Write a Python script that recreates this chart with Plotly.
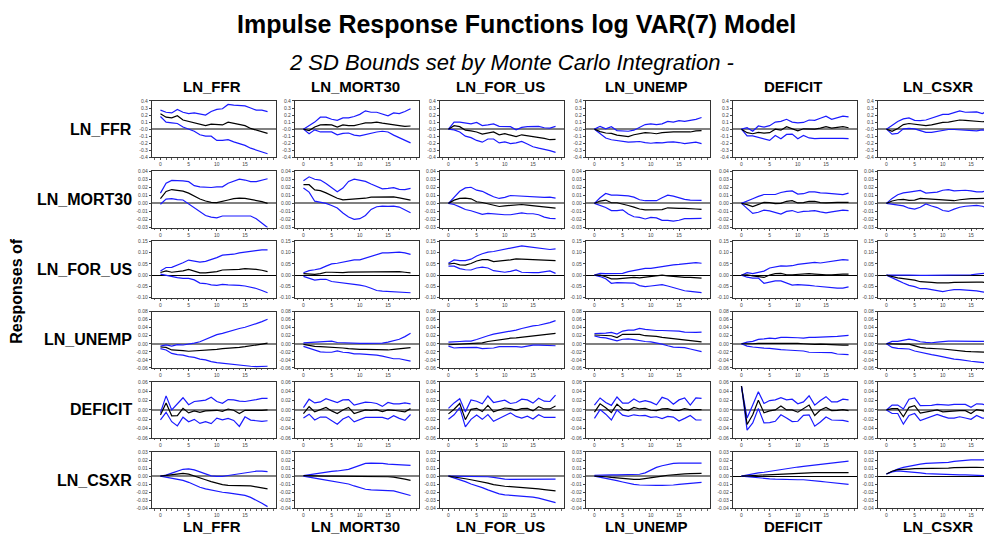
import plotly.graph_objects as go

variables = ["LN_FFR", "LN_MORT30", "LN_FOR_US", "LN_UNEMP", "DEFICIT", "LN_CSXR"]
periods = list(range(20))
x_ticks = [0, 5, 10, 15]

# y-axis ticks for each response row
yticks_FFR = [0.4, 0.3, 0.2, 0.1, 0.0, -0.1, -0.2, -0.3, -0.4]
yticks_MORT30 = [0.04, 0.03, 0.02, 0.01, 0.00, -0.01, -0.02, -0.03]
yticks_FOR_US = [0.15, 0.10, 0.05, 0.00, -0.05, -0.10]
yticks_UNEMP = [0.08, 0.06, 0.04, 0.02, 0.00, -0.02, -0.04, -0.06]
yticks_DEFICIT = [0.06, 0.04, 0.02, 0.00, -0.02, -0.04, -0.06]
yticks_CSXR = [0.03, 0.02, 0.01, 0.00, -0.01, -0.02, -0.03, -0.04]

# ---- Responses of LN_FFR (one list per shock: FFR, MORT30, FOR_US, UNEMP, DEFICIT, CSXR)
FFR_mid = [
    [0.22,0.17,0.16,0.19,0.13,0.11,0.10,0.08,0.05,0.07,0.06,0.06,0.10,0.08,0.07,0.05,0.01,-0.015,-0.03,-0.06],
    [0,-0.02,0.03,0.06,0.065,0.06,0.03,0.06,0.05,0.05,0.07,0.09,0.09,0.10,0.085,0.07,0.065,0.05,0.04,0.045],
    [0,0.05,0.035,-0.015,-0.025,-0.04,-0.07,-0.05,-0.04,-0.08,-0.065,-0.085,-0.105,-0.08,-0.09,-0.105,-0.115,-0.13,-0.15,-0.145],
    [0,-0.035,-0.055,-0.06,-0.085,-0.095,-0.105,-0.08,-0.065,-0.05,-0.055,-0.065,-0.05,-0.04,-0.04,-0.04,-0.045,-0.04,-0.025,-0.02],
    [0,-0.05,-0.065,-0.045,-0.055,-0.05,0,-0.015,0.035,0.01,-0.025,0.005,0,0,0.015,0.035,0.015,0.02,0.035,0.02],
    [0,-0.03,0.01,0.065,0.08,0.07,0.055,0.05,0.06,0.08,0.095,0.10,0.12,0.13,0.125,0.115,0.115,0.105,0.11,0.11],
]
FFR_hi = [
    [0.27,0.24,0.23,0.28,0.24,0.22,0.23,0.22,0.20,0.25,0.28,0.29,0.35,0.34,0.33,0.33,0.30,0.27,0.27,0.25],
    [0,0.05,0.10,0.17,0.17,0.14,0.125,0.16,0.16,0.18,0.21,0.26,0.24,0.24,0.21,0.19,0.23,0.22,0.25,0.29],
    [0,0.10,0.10,0.09,0.075,0.095,0.05,0.06,0.075,0.04,0.04,0.035,-0.01,0.025,0.035,0.04,0.04,0.02,0.015,0.04],
    [0,0.04,0.005,0.035,-0.02,-0.025,-0.03,-0.015,0.03,0.065,0.075,0.065,0.075,0.11,0.10,0.12,0.11,0.12,0.14,0.165],
    [0,0.02,-0.03,0.045,0.03,0.05,0.10,0.11,0.14,0.10,0.09,0.095,0.13,0.125,0.155,0.185,0.14,0.16,0.185,0.175],
    [0,0.05,0.11,0.145,0.16,0.125,0.12,0.13,0.16,0.19,0.21,0.21,0.24,0.26,0.24,0.245,0.245,0.22,0.26,0.27],
]
FFR_lo = [
    [0.18,0.10,0.09,0.08,0.03,0.0,-0.03,-0.08,-0.10,-0.10,-0.16,-0.16,-0.15,-0.18,-0.20,-0.23,-0.27,-0.30,-0.32,-0.35],
    [0,-0.065,-0.01,-0.04,-0.04,-0.04,-0.08,-0.06,-0.055,-0.085,-0.095,-0.075,-0.055,-0.04,-0.03,-0.04,-0.085,-0.12,-0.155,-0.195],
    [0,-0.01,-0.04,-0.10,-0.12,-0.16,-0.185,-0.14,-0.14,-0.195,-0.18,-0.205,-0.195,-0.175,-0.21,-0.25,-0.27,-0.285,-0.305,-0.33],
    [0,-0.065,-0.125,-0.15,-0.165,-0.18,-0.185,-0.18,-0.175,-0.19,-0.20,-0.19,-0.195,-0.185,-0.18,-0.19,-0.205,-0.195,-0.185,-0.205],
    [0,-0.095,-0.095,-0.12,-0.135,-0.16,-0.09,-0.135,-0.075,-0.07,-0.135,-0.09,-0.125,-0.135,-0.13,-0.13,-0.12,-0.125,-0.13,-0.135],
    [0,-0.07,-0.06,0.005,0.01,0.005,-0.02,-0.045,-0.045,-0.03,-0.015,-0.005,-0.005,-0.01,-0.02,-0.03,-0.025,-0.01,-0.03,-0.045],
]

# ---- Responses of LN_MORT30
MORT30_mid = [
    [0.006,0.0148,0.0172,0.0164,0.0152,0.0127,0.0087,0.0054,0.003,0.0013,0.0009,0.0022,0.0042,0.0058,0.0066,0.0062,0.005,0.0038,0.0022,0.0],
    [0.0232,0.0232,0.0167,0.0158,0.013,0.0097,0.0064,0.0044,0.0048,0.0052,0.0056,0.0064,0.0077,0.0077,0.0077,0.0077,0.008,0.0069,0.0052,0.004],
    [0,0.004,0.0061,0.0066,0.0057,0.002,0.0011,-0.0005,-0.0022,-0.0039,-0.003,-0.0022,-0.0018,-0.0014,-0.0022,-0.003,-0.0039,-0.0043,-0.0051,-0.0059],
    [0,0.0029,0.0041,0.0008,0.0008,-0.0005,-0.0026,-0.0046,-0.007,-0.008,-0.0078,-0.0078,-0.0078,-0.0055,-0.0063,-0.0063,-0.0063,-0.0063,-0.007,-0.0074],
    [0,-0.0015,-0.004,-0.0015,0.0013,0.0009,-0.0003,0,0.0026,0.0034,0.0005,0.0009,0.0026,0.0026,0.0009,0.0005,0.0013,0.0013,0.0013,0.0013],
    [0,0.003,0.0045,0.005,0.0037,0.0041,0.0062,0.0058,0.005,0.0045,0.0041,0.0037,0.0033,0.0045,0.0054,0.0058,0.0058,0.0062,0.0066,0.0066],
]
MORT30_hi = [
    [0.0127,0.025,0.0286,0.0286,0.028,0.027,0.022,0.0205,0.020,0.0197,0.0205,0.0205,0.025,0.028,0.030,0.029,0.027,0.027,0.0286,0.0306],
    [0.0281,0.033,0.030,0.029,0.0248,0.020,0.0145,0.019,0.0273,0.030,0.029,0.0273,0.024,0.021,0.018,0.0186,0.0195,0.0175,0.017,0.0186],
    [0,0.0074,0.015,0.0192,0.020,0.0164,0.015,0.0115,0.0082,0.0061,0.0074,0.0098,0.0094,0.009,0.0082,0.0074,0.007,0.0074,0.0078,0.0066],
    [0,0.007,0.0123,0.0102,0.0102,0.0102,0.0094,0.0078,0.0045,0.0033,0.0029,0.0033,0.007,0.0102,0.009,0.0066,0.0049,0.0041,0.0037,0.0037],
    [0,0.0033,0.0058,0.0087,0.011,0.011,0.011,0.0135,0.015,0.0155,0.0115,0.012,0.0143,0.0143,0.013,0.0127,0.0123,0.012,0.011,0.0127],
    [0,0.0062,0.0107,0.013,0.0139,0.015,0.016,0.0127,0.013,0.0139,0.0163,0.0171,0.0155,0.016,0.0163,0.0155,0.0143,0.0143,0.0167,0.021],
]
MORT30_lo = [
    [-0.001,0.0054,0.006,0.0046,0.0042,-0.0007,-0.0056,-0.011,-0.015,-0.017,-0.018,-0.0157,-0.0157,-0.0157,-0.0157,-0.016,-0.0157,-0.019,-0.024,-0.030],
    [0.019,0.014,0.0027,0.0015,0,-0.0026,-0.0058,-0.012,-0.0169,-0.0198,-0.019,-0.015,-0.0075,-0.0042,-0.0034,-0.0038,-0.0034,-0.0046,-0.0079,-0.0116],
    [0,-0.0014,-0.0043,-0.0076,-0.0092,-0.0117,-0.0137,-0.0125,-0.0133,-0.0141,-0.0141,-0.0141,-0.0133,-0.0117,-0.0129,-0.0129,-0.0141,-0.017,-0.0186,-0.019],
    [0,-0.0026,-0.0051,-0.009,-0.009,-0.008,-0.0133,-0.0166,-0.0174,-0.0194,-0.0174,-0.018,-0.021,-0.021,-0.022,-0.021,-0.019,-0.019,-0.0186,-0.0186],
    [0,-0.0068,-0.0125,-0.011,-0.0085,-0.0093,-0.0113,-0.0133,-0.01,-0.0089,-0.0113,-0.01,-0.0097,-0.0089,-0.0105,-0.0118,-0.0105,-0.0093,-0.0085,-0.0089],
    [0,-0.0008,-0.0015,-0.0032,-0.006,-0.0072,-0.0048,-0.0008,-0.0032,-0.0052,-0.0089,-0.01,-0.0072,-0.0048,-0.0036,-0.0028,-0.0024,-0.0036,-0.0052,-0.0077],
]

# ---- Responses of LN_FOR_US
FOR_US_mid = [
    [0.012,0.019,0.013,0.015,0.019,0.026,0.019,0.010,0.010,0.012,0.016,0.023,0.023,0.025,0.026,0.029,0.028,0.026,0.022,0.016],
    [0.007,0.004,0.004,0.007,0.013,0.013,0.011,0.011,0.014,0.014,0.014,0.016,0.017,0.017,0.017,0.016,0.016,0.016,0.013,0.010],
    [0.049,0.053,0.046,0.045,0.052,0.063,0.069,0.069,0.060,0.062,0.065,0.068,0.072,0.071,0.069,0.068,0.068,0.068,0.066,0.065],
    [0,0,-0.007,-0.016,-0.016,-0.014,-0.010,-0.010,-0.012,-0.009,-0.007,-0.001,0,-0.003,-0.006,-0.009,-0.010,-0.010,-0.012,-0.013],
    [0,0.002,-0.003,-0.005,-0.010,0.001,0.007,0.008,0.002,0.002,0.004,0.007,0.007,0.005,0.002,0.002,0.002,0.005,0.005,0.005],
    [0,-0.007,-0.012,-0.015,-0.017,-0.022,-0.029,-0.032,-0.032,-0.034,-0.035,-0.034,-0.032,-0.031,-0.031,-0.031,-0.031,-0.031,-0.032,-0.034],
]
FOR_US_hi = [
    [0.019,0.034,0.035,0.044,0.055,0.067,0.064,0.058,0.061,0.068,0.078,0.089,0.090,0.093,0.099,0.103,0.106,0.109,0.112,0.112],
    [0.011,0.020,0.024,0.029,0.040,0.050,0.053,0.058,0.065,0.068,0.068,0.076,0.084,0.094,0.099,0.099,0.102,0.102,0.099,0.092],
    [0.053,0.068,0.065,0.065,0.071,0.085,0.095,0.102,0.105,0.110,0.115,0.117,0.124,0.130,0.127,0.124,0.121,0.117,0.114,0.117],
    [0,0.008,0.007,0.007,0.007,0.008,0.016,0.020,0.024,0.030,0.030,0.034,0.040,0.043,0.046,0.048,0.050,0.055,0.056,0.053],
    [0,0.011,0.007,0.013,0.018,0.032,0.038,0.041,0.040,0.042,0.048,0.051,0.054,0.057,0.054,0.058,0.063,0.067,0.069,0.067],
    [0,0.001,0.001,0,0,0.001,-0.001,-0.001,-0.001,0,0,0,0,0.001,0.001,0.002,0.005,0.007,0.009,0.012],
]
FOR_US_lo = [
    [0.005,0,-0.008,-0.011,-0.014,-0.014,-0.021,-0.035,-0.037,-0.043,-0.045,-0.041,-0.043,-0.043,-0.045,-0.048,-0.052,-0.059,-0.068,-0.078],
    [-0.005,-0.013,-0.022,-0.019,-0.018,-0.028,-0.032,-0.035,-0.038,-0.041,-0.044,-0.049,-0.058,-0.068,-0.071,-0.072,-0.074,-0.075,-0.078,-0.078],
    [0.040,0.040,0.029,0.024,0.023,0.032,0.036,0.032,0.020,0.016,0.013,0.017,0.023,0.013,0.011,0.011,0.011,0.016,0.019,0.008],
    [0,-0.006,-0.016,-0.036,-0.033,-0.033,-0.033,-0.035,-0.046,-0.051,-0.048,-0.044,-0.042,-0.048,-0.056,-0.064,-0.069,-0.072,-0.074,-0.077],
    [0,-0.009,-0.013,-0.013,-0.036,-0.029,-0.025,-0.025,-0.034,-0.044,-0.042,-0.042,-0.045,-0.048,-0.051,-0.054,-0.057,-0.057,-0.057,-0.052],
    [0,-0.013,-0.023,-0.035,-0.045,-0.051,-0.060,-0.060,-0.064,-0.070,-0.073,-0.068,-0.064,-0.064,-0.065,-0.067,-0.070,-0.074,-0.078,-0.081],
]

# ---- Responses of LN_UNEMP
UNEMP_mid = [
    [-0.008,-0.009,-0.0154,-0.0154,-0.017,-0.0186,-0.0178,-0.016,-0.017,-0.0154,-0.0138,-0.012,-0.0113,-0.0097,-0.009,-0.0073,-0.0057,-0.003,-0.0008,0.0016],
    [-0.0016,-0.0049,-0.0065,-0.0073,-0.0081,-0.0081,-0.0081,-0.0105,-0.0121,-0.0138,-0.0138,-0.0138,-0.0146,-0.0146,-0.0154,-0.0154,-0.0138,-0.013,-0.0113,-0.0097],
    [-0.0024,-0.0016,-0.0016,-0.0016,-0.0008,0.0008,0.0024,0.0057,0.0081,0.0105,0.0121,0.0138,0.0146,0.016,0.0186,0.020,0.021,0.0227,0.024,0.0259],
    [0.0218,0.021,0.021,0.020,0.0154,0.0235,0.0235,0.0235,0.0235,0.020,0.020,0.0186,0.016,0.0146,0.013,0.0113,0.0097,0.0081,0.0065,0.0049],
    [0,-0.0008,0,0.0008,0.0008,0.0025,0.0008,0.0008,0.0008,0.0008,0.0008,0,-0.0016,-0.0016,-0.0008,-0.0008,-0.0016,-0.0025,-0.0033,-0.0033],
    [0,-0.0008,-0.0016,-0.0008,-0.0008,-0.005,-0.009,-0.0106,-0.0123,-0.0123,-0.013,-0.0147,-0.0172,-0.0188,-0.0188,-0.0196,-0.0204,-0.021,-0.0213,-0.0213],
]
UNEMP_hi = [
    [-0.0057,-0.003,-0.0057,-0.002,-0.003,-0.0016,0.0016,0.005,0.0105,0.017,0.0227,0.026,0.030,0.035,0.038,0.041,0.045,0.050,0.055,0.061],
    [0.0024,0.0032,0.0049,0.0057,0.0057,0.0065,0.0032,0.0024,0.0008,0,0.0008,0.0008,0.0008,0.0008,0.0016,0.004,0.0081,0.0113,0.0178,0.0259],
    [0.004,0.004,0.0057,0.0065,0.0065,0.0105,0.016,0.020,0.024,0.0267,0.0283,0.0307,0.034,0.038,0.042,0.0445,0.046,0.0485,0.0526,0.0574],
    [0.025,0.025,0.0267,0.0283,0.024,0.0316,0.034,0.034,0.038,0.0356,0.034,0.033,0.033,0.033,0.0316,0.0316,0.029,0.0283,0.0283,0.029],
    [0,0.004,0.006,0.011,0.0123,0.014,0.013,0.016,0.016,0.016,0.015,0.014,0.016,0.016,0.016,0.0176,0.0176,0.0184,0.020,0.0208],
    [0,0.006,0.006,0.009,0.0115,0.009,0.005,0.0033,0.0025,0.004,0.006,0.0066,0.0066,0.006,0.006,0.006,0.006,0.006,0.006,0.0066],
]
UNEMP_lo = [
    [-0.012,-0.0154,-0.024,-0.027,-0.028,-0.032,-0.034,-0.038,-0.040,-0.0445,-0.047,-0.0485,-0.051,-0.0526,-0.054,-0.055,-0.0558,-0.0566,-0.0566,-0.0558],
    [-0.0065,-0.0113,-0.017,-0.0202,-0.021,-0.021,-0.0178,-0.021,-0.0218,-0.025,-0.025,-0.0259,-0.0267,-0.0283,-0.0307,-0.034,-0.0372,-0.0372,-0.0396,-0.0429],
    [-0.0057,-0.0105,-0.0097,-0.0097,-0.0105,-0.0089,-0.0121,-0.0121,-0.0105,-0.0073,-0.0065,-0.0073,-0.0073,-0.0081,-0.0057,-0.0032,-0.0032,-0.004,-0.0057,-0.0049],
    [0.0194,0.016,0.0146,0.0113,0.0073,0.0113,0.0121,0.0105,0.0073,0.0057,0.0049,0.0024,-0.0008,-0.0049,-0.0081,-0.0089,-0.0097,-0.013,-0.016,-0.0194],
    [0,-0.0057,-0.008,-0.0098,-0.0106,-0.0115,-0.0139,-0.0147,-0.0155,-0.0163,-0.0172,-0.018,-0.021,-0.0213,-0.0213,-0.022,-0.022,-0.0254,-0.0254,-0.027],
    [0,-0.009,-0.0115,-0.0123,-0.013,-0.018,-0.0213,-0.0254,-0.027,-0.0295,-0.0327,-0.035,-0.038,-0.0393,-0.042,-0.0434,-0.045,-0.046,-0.0475,-0.049],
]

# ---- Responses of DEFICIT
DEFICIT_mid = [
    [-0.0105,0.0147,-0.0125,-0.012,0.0035,-0.0063,-0.002,-0.005,-0.002,-0.0007,-0.0007,-0.0028,0.002,-0.0007,-0.0077,-0.0007,-0.0014,-0.0007,-0.0007,0],
    [-0.0076,0.0069,-0.0041,0.0014,0.0055,-0.002,-0.0076,0,0.0055,-0.0076,-0.0034,0,-0.0007,0,-0.0034,0,-0.0007,-0.0028,-0.0041,0.0028],
    [-0.0083,0.0014,0.0138,-0.0207,0.0014,0.0034,-0.0034,0.0097,-0.0041,0,0.0041,0.0028,-0.0007,0.0028,0.0034,-0.002,0.0069,0.0021,0.0021,0.0083],
    [-0.0048,0.0131,0.0048,-0.0055,0.0124,0.0014,-0.0014,0.0055,0.0021,0.0034,-0.0007,-0.0014,0.0021,0.0028,-0.0007,-0.0007,0.0028,0,0.0007,0.0007],
    [0.051,-0.031,-0.0103,0.0207,-0.0062,-0.002,0,0.0083,0,0,-0.0048,0.0021,0.0103,-0.0117,0,0.0055,-0.0014,-0.0007,0.0007,-0.0014],
    [0,0.0028,0.0028,-0.0145,0.0055,0.009,-0.0069,-0.0048,-0.0028,0,-0.0041,-0.0028,-0.0014,-0.0014,-0.0014,-0.0076,0.0007,-0.0014,-0.0055,-0.0055],
]
DEFICIT_hi = [
    [-0.0056,0.030,0,0.014,0.026,0.0112,0.018,0.0195,0.021,0.027,0.018,0.014,0.022,0.0216,0.019,0.018,0.0195,0.022,0.0245,0.0245],
    [0.0048,0.023,0.015,0.017,0.024,0.0207,0.0159,0.0214,0.022,0.0103,0.0138,0.0166,0.0159,0.0138,0.0076,0.0159,0.0131,0.0131,0.015,0.0131],
    [0.0034,0.015,0.024,-0.0041,0.0214,0.0186,0.0131,0.0297,0.0159,0.0186,0.0207,0.0138,0.0159,0.0228,0.0214,0.0145,0.0248,0.0186,0.018,0.0317],
    [0.0103,0.0255,0.0159,0.0097,0.0276,0.0145,0.0145,0.0234,0.0166,0.020,0.0166,0.011,0.0269,0.0228,0.0124,0.0214,0.0255,0.0103,0.0255,0.0248],
    [0.051,-0.0172,0.0103,0.0386,0.0138,0.020,0.0214,0.0262,0.0214,0.0228,0.0131,0.0172,0.0303,0.0103,0.020,0.0283,0.0172,0.0172,0.0228,0.0214],
    [0,0.0103,0.0103,0.0021,0.0228,0.0255,0.009,0.009,0.0097,0.0117,0.0103,0.0103,0.0117,0.0124,0.0117,0.0055,0.0131,0.0124,0.0083,0.0062],
]
DEFICIT_lo = [
    [-0.021,-0.005,-0.025,-0.034,-0.0154,-0.025,-0.020,-0.0286,-0.025,-0.029,-0.0175,-0.021,-0.018,-0.0223,-0.035,-0.0147,-0.0216,-0.023,-0.0244,-0.023],
    [-0.0172,-0.009,-0.0214,-0.0152,-0.0152,-0.0234,-0.0303,-0.0193,-0.0138,-0.0255,-0.0207,-0.0159,-0.0159,-0.0152,-0.0159,-0.0193,-0.0124,-0.0179,-0.0221,-0.0097],
    [-0.020,-0.0103,0.0048,-0.0359,-0.020,-0.011,-0.020,-0.0097,-0.0241,-0.0186,-0.0124,-0.0062,-0.0138,-0.0172,-0.0131,-0.0193,-0.0103,-0.0159,-0.0159,-0.0159],
    [-0.0179,0.0007,-0.009,-0.0214,0,-0.011,-0.0138,-0.0103,-0.0124,-0.0117,-0.0159,-0.0145,-0.0186,-0.0138,-0.0152,-0.0234,-0.0179,-0.0117,-0.0214,-0.0214],
    [0.051,-0.0428,-0.0276,0.0034,-0.0276,-0.0269,-0.0241,-0.0103,-0.0172,-0.0248,-0.0241,-0.0117,-0.0103,-0.0345,-0.0255,-0.0152,-0.0214,-0.0214,-0.0221,-0.0248],
    [0,-0.0076,-0.0076,-0.0303,-0.0117,-0.0076,-0.0228,-0.0179,-0.0145,-0.0097,-0.0138,-0.0172,-0.0172,-0.0145,-0.0172,-0.020,-0.0117,-0.0172,-0.0172,-0.0131],
]

# ---- Responses of LN_CSXR
CSXR_mid = [
    [0,0.0008,0.002,0.0028,0.0033,0.0024,0.0004,-0.002,-0.0045,-0.0069,-0.009,-0.0106,-0.0114,-0.0114,-0.0114,-0.0118,-0.0122,-0.0134,-0.0147,-0.0159],
    [0.0007,0.0003,0.0003,0,0,0,0,-0.0004,-0.0004,-0.0004,-0.0004,0,0,0,-0.0004,-0.0008,-0.0012,-0.002,-0.0037,-0.0053],
    [0,-0.0008,-0.002,-0.0033,-0.0045,-0.0057,-0.0065,-0.0086,-0.0106,-0.0118,-0.0126,-0.013,-0.0134,-0.0139,-0.0143,-0.0151,-0.0159,-0.0167,-0.0175,-0.0183],
    [0,0,-0.0008,-0.0016,-0.0024,-0.0033,-0.0037,-0.0041,-0.0041,-0.0033,-0.002,-0.0008,0,0.0011,0.0019,0.0023,0.0027,0.0031,0.0035,0.0035],
    [0,0,0.0007,0.0011,0.0015,0.0019,0.0023,0.0027,0.0031,0.0035,0.004,0.004,0.0044,0.0044,0.0044,0.0044,0.0044,0.0044,0.0044,0.0044],
    [0.0027,0.006,0.008,0.0088,0.0088,0.0092,0.0092,0.0092,0.0092,0.0096,0.0096,0.01,0.0105,0.0109,0.0109,0.0109,0.0109,0.0105,0.0105,0.0105],
]
CSXR_hi = [
    [0,0.0012,0.0037,0.0065,0.0085,0.009,0.0077,0.0053,0.0024,0.0004,-0.0004,-0.0004,0.0008,0.002,0.0033,0.0045,0.0053,0.0061,0.0061,0.0057],
    [0.0007,0.0019,0.0031,0.0044,0.0052,0.006,0.0064,0.0072,0.0084,0.0109,0.0137,0.0158,0.0162,0.0162,0.0158,0.015,0.0145,0.0137,0.0133,0.0133],
    [0,0,0,0,0,0,0,-0.0008,-0.0016,-0.0029,-0.0037,-0.0041,-0.0041,-0.0041,-0.0045,-0.0045,-0.0041,-0.0041,-0.0037,-0.0037],
    [0.0011,0.0015,0.0015,0.0015,0.0015,0.0015,0.0015,0.0019,0.0023,0.004,0.0072,0.0109,0.0129,0.0145,0.0158,0.0162,0.0162,0.0162,0.0162,0.0162],
    [0,0.0015,0.0027,0.004,0.0048,0.006,0.0072,0.0084,0.0096,0.0105,0.0113,0.0121,0.0129,0.0137,0.0145,0.0154,0.0162,0.017,0.0178,0.0186],
    [0.0027,0.006,0.0088,0.0109,0.0125,0.0137,0.015,0.0158,0.0162,0.0162,0.0162,0.017,0.0182,0.019,0.0198,0.0202,0.0202,0.0202,0.0202,0.0202],
]
CSXR_lo = [
    [0,-0.0012,-0.0024,-0.0037,-0.0053,-0.0077,-0.011,-0.0138,-0.0159,-0.0175,-0.0191,-0.020,-0.0208,-0.0216,-0.0224,-0.024,-0.0264,-0.0297,-0.0338,-0.0379],
    [0,-0.0008,-0.0024,-0.0037,-0.0049,-0.0057,-0.0065,-0.0082,-0.0098,-0.0122,-0.0143,-0.0163,-0.0171,-0.0171,-0.0175,-0.0179,-0.0183,-0.020,-0.022,-0.0241],
    [0,-0.002,-0.0045,-0.0069,-0.0098,-0.0118,-0.0143,-0.0171,-0.0196,-0.022,-0.0232,-0.0236,-0.0244,-0.0248,-0.0252,-0.026,-0.0273,-0.0293,-0.0309,-0.033],
    [0,-0.0012,-0.0024,-0.0041,-0.0057,-0.0073,-0.009,-0.0102,-0.011,-0.0114,-0.0114,-0.0114,-0.0114,-0.0114,-0.011,-0.0102,-0.0094,-0.0086,-0.0082,-0.0078],
    [0,-0.0008,-0.0016,-0.0024,-0.0029,-0.0033,-0.0037,-0.0041,-0.0045,-0.0045,-0.0045,-0.0045,-0.0049,-0.0057,-0.0065,-0.0073,-0.0082,-0.009,-0.0098,-0.0102],
    [0.0027,0.0052,0.0064,0.006,0.0052,0.0048,0.004,0.0031,0.0027,0.0023,0.0019,0.0015,0.0015,0.0015,0.0015,0.0011,0.0015,0.0011,0.0007,0],
]

rows = [
    (FFR_mid, FFR_lo, FFR_hi, yticks_FFR, 1),
    (MORT30_mid, MORT30_lo, MORT30_hi, yticks_MORT30, 2),
    (FOR_US_mid, FOR_US_lo, FOR_US_hi, yticks_FOR_US, 2),
    (UNEMP_mid, UNEMP_lo, UNEMP_hi, yticks_UNEMP, 2),
    (DEFICIT_mid, DEFICIT_lo, DEFICIT_hi, yticks_DEFICIT, 2),
    (CSXR_mid, CSXR_lo, CSXR_hi, yticks_CSXR, 2),
]

# ---------------- layout geometry (screen pixels) ----------------
OFF = 8                       # page body margin
W, H = 992 - OFF, 540 - OFF   # figure size so it fits the window
col_left = [152, 295, 440, 586, 733, 878]
box_w = 124
row_top = [99, 170, 241, 312, 383, 454]
box_h = 57
x_lo, x_hi = -1.5, 20.5
px_per_unit = box_w / (x_hi - x_lo)

def px(X):   # screen x -> paper fraction
    return (X - OFF) / W

def py(Y):   # screen y -> paper fraction
    return 1 - (Y - OFF) / H

FONT = "Liberation Sans, Arial, Helvetica, sans-serif"
BLUE = "#1a1aff"

fig = go.Figure()
layout = dict(
    width=W, height=H,
    margin=dict(l=0, r=0, t=0, b=0),
    paper_bgcolor="white", plot_bgcolor="white",
    showlegend=False,
    font=dict(family=FONT, color="black"),
)

def fmt(v, dec):
    s = f"{v:.{dec}f}"
    if dec == 1 and abs(v) < 1e-12:
        s = "-0.0"
    return s

n = 0
for r, (mid, lo, hi, yt, dec) in enumerate(rows):
    for c in range(6):
        n += 1
        xa = "x" if n == 1 else f"x{n}"
        ya = "y" if n == 1 else f"y{n}"
        left = col_left[c]
        right = min(left + box_w, 992)
        xr_hi = x_lo + (right - left) / px_per_unit
        top = row_top[r]
        bottom = top + box_h
        for series, color in ((hi[c], BLUE), (lo[c], BLUE), (mid[c], "black")):
            fig.add_trace(go.Scatter(
                x=periods, y=series, mode="lines", xaxis=xa, yaxis=ya,
                line=dict(color=color, width=1.2), hoverinfo="skip"))
        black_zero = (r == 2) or (r == 5 and c >= 4)
        zero_col = "black" if black_zero else "#808080"
        zero_w = 1 if black_zero else 2
        ymin, ymax = min(yt), max(yt)
        layout["xaxis" if n == 1 else f"xaxis{n}"] = dict(
            domain=[px(left), min(px(right), 1.0)], anchor=ya,
            range=[x_lo, xr_hi], tickvals=x_ticks, ticktext=[str(t) for t in x_ticks],
            ticks="outside", ticklen=2, tickwidth=0.6, tickcolor="#444",
            minor=dict(ticks="outside", dtick=1, tick0=0, ticklen=1.2, tickcolor="#666", tickwidth=0.5),
            tickfont=dict(size=5, color="#444", family=FONT),
            showgrid=False, zeroline=False,
            showline=True, linecolor="#333", linewidth=1.3, mirror=True,
        )
        layout["yaxis" if n == 1 else f"yaxis{n}"] = dict(
            domain=[py(bottom), py(top)], anchor=xa,
            range=[ymin, ymax], tickvals=yt, ticktext=[fmt(v, dec) for v in yt],
            ticks="outside", ticklen=2, tickwidth=0.6, tickcolor="#444",
            tickfont=dict(size=5, color="#444", family=FONT),
            showgrid=False,
            zeroline=True, zerolinecolor=zero_col, zerolinewidth=zero_w,
            showline=True, linecolor="#333", linewidth=1.3, mirror=(c < 5),
        )

ann = []
ann.append(dict(text="<b>Impulse Response Functions log VAR(7) Model</b>", x=px(516), y=py(21),
                xref="paper", yref="paper", showarrow=False, xanchor="center", yanchor="middle",
                font=dict(size=25, family=FONT, color="black")))
ann.append(dict(text="<i>2 SD Bounds set by Monte Carlo Integration -</i>", x=px(511), y=py(60),
                xref="paper", yref="paper", showarrow=False, xanchor="center", yanchor="middle",
                font=dict(size=22, family=FONT, color="black")))
for c, name in enumerate(variables):
    cx = px(col_left[c] + 60)
    for yy in (84, 529):
        ann.append(dict(text=f"<b>{name}</b>", x=cx, y=py(yy), xref="paper", yref="paper",
                        showarrow=False, xanchor="center", yanchor="middle",
                        font=dict(size=15, family=FONT, color="black")))
for r, name in enumerate(variables):
    ann.append(dict(text=f"<b>{name}</b>", x=px(134), y=py(row_top[r] + box_h / 2),
                    xref="paper", yref="paper", showarrow=False, xanchor="right", yanchor="middle",
                    font=dict(size=16, family=FONT, color="black")))
ann.append(dict(text="<b>Responses of</b>", x=px(17), y=py(291), xref="paper", yref="paper",
                showarrow=False, xanchor="center", yanchor="middle", textangle=-90,
                font=dict(size=16, family=FONT, color="black")))
layout["annotations"] = ann

fig.update_layout(**layout)
fig.write_html("out.html")
